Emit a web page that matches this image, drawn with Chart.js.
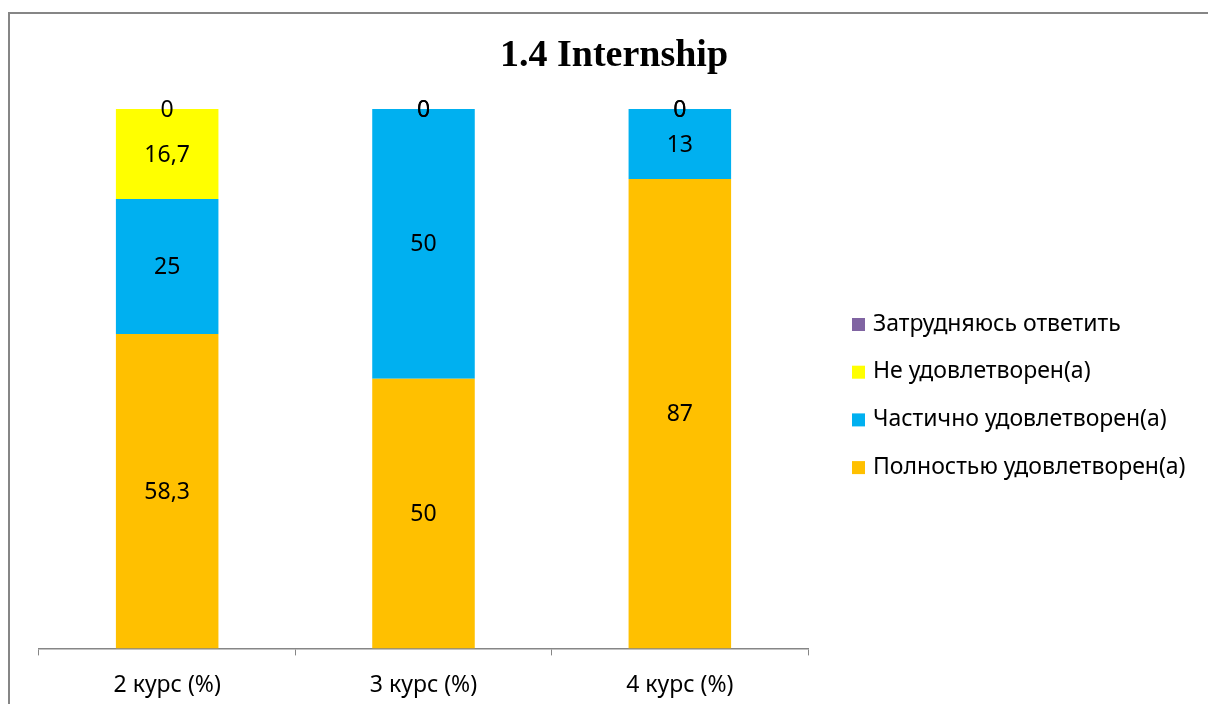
<!DOCTYPE html>
<html>
<head>
<meta charset="utf-8">
<script src="https://cdn.jsdelivr.net/npm/chart.js@4"></script>
<style>
    body { margin: 0; background: #fff; }
    #wrap { position: relative; width: 1208px; height: 704px; overflow: hidden; }
    #frame { position: absolute; left: 8px; top: 12px; width: 1300px; height: 800px; border: 2px solid #868686; }
    canvas { position: absolute; left: 0; top: 0; }
</style>
</head>
<body>
<div id="wrap">
    <div id="frame"></div>
    <canvas id="chart" width="1208" height="720"></canvas>
</div>
<script>
const courses = ["2 курс (%)", "3 курс (%)", "4 курс (%)"];
const fullySatisfied = [58.3, 50, 87];
const partlySatisfied = [25, 50, 13];
const notSatisfied = [16.7, 0, 0];
const hardToSay = [0, 0, 0];

const seriesNames = ["Полностью удовлетворен(а)", "Частично удовлетворен(а)", "Не удовлетворен(а)", "Затрудняюсь ответить"];
const seriesColors = ["#FFC000", "#00B0F0", "#FFFF00", "#8064A2"];

const labelFont = "23px 'Noto Sans', sans-serif";

// value labels in the middle of each segment, comma as decimal mark
const barLabels = {
    id: "barLabels",
    afterDatasetsDraw(chart) {
        const ctx = chart.ctx;
        ctx.save();
        ctx.font = labelFont;
        ctx.fillStyle = "#000";
        ctx.textAlign = "center";
        ctx.textBaseline = "middle";
        chart.data.datasets.forEach((ds, i) => {
            chart.getDatasetMeta(i).data.forEach((bar, j) => {
                const y = (bar.y + bar.base) / 2 + 1;
                ctx.fillText(String(ds.data[j]).replace(".", ","), bar.x, y);
            });
        });
        ctx.restore();
    }
};

// title over the whole frame and the legend to the right
const extras = {
    id: "extras",
    afterDraw(chart) {
        const ctx = chart.ctx;
        ctx.save();
        ctx.fillStyle = "#000";
        ctx.font = "bold 38px 'Liberation Serif', 'Times New Roman', serif";
        ctx.textAlign = "center";
        ctx.textBaseline = "middle";
        ctx.fillText("1.4 Internship", 614, 56);

        ctx.font = labelFont;
        ctx.textAlign = "left";
        const rows = [3, 2, 1, 0];
        rows.forEach((k, n) => {
            const cy = 324 + n * 47.7;
            ctx.fillStyle = chart.data.datasets[k].backgroundColor;
            ctx.fillRect(852, cy - 6, 13, 13);
            ctx.fillStyle = "#000";
            ctx.fillText(chart.data.datasets[k].label, 873, cy);
        });
        ctx.restore();
    }
};

const datasets = [fullySatisfied, partlySatisfied, notSatisfied, hardToSay].map((d, i) => ({
    label: seriesNames[i],
    data: d,
    backgroundColor: seriesColors[i],
    borderWidth: 0,
    categoryPercentage: 0.4,
    barPercentage: 1
}));

new Chart(document.getElementById("chart"), {
    type: "bar",
    data: { labels: courses, datasets: datasets },
    options: {
        responsive: false,
        animation: false,
        layout: { padding: { left: 39, right: 400, top: 109, bottom: 5 } },
        plugins: {
            legend: { display: false },
            title: { display: false },
            tooltip: { enabled: false }
        },
        scales: {
            x: {
                stacked: true,
                grid: {
                    display: true,
                    drawOnChartArea: false,
                    drawTicks: true,
                    tickLength: 7,
                    color: "#868686"
                },
                border: { display: true, color: "#868686", width: 1.5 },
                ticks: {
                    color: "#000",
                    font: { family: "'Noto Sans', sans-serif", size: 23 },
                    padding: 16
                }
            },
            y: {
                stacked: true,
                display: false,
                min: 0,
                max: 100
            }
        }
    },
    plugins: [barLabels, extras]
});
</script>
</body>
</html>
